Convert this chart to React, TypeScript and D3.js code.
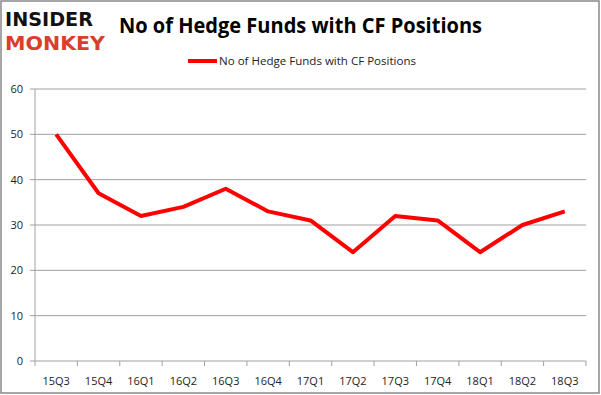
import React from "react";
import * as d3 from "d3";

const categories = ["15Q3","15Q4","16Q1","16Q2","16Q3","16Q4","17Q1","17Q2","17Q3","17Q4","18Q1","18Q2","18Q3"];
const values = [50, 37, 32, 34, 38, 33, 31, 24, 32, 31, 24, 30, 33];
const yTicks = [0, 10, 20, 30, 40, 50, 60];
const seriesName = "No of Hedge Funds with CF Positions";
const title = "No of Hedge Funds with CF Positions";

export default function App() {
  const W = 601, H = 395;
  const left = 35, right = 586, top = 89, bottom = 361;
  const x = d3.scaleBand<string>().domain(categories).range([left, right]);
  const y = d3.scaleLinear().domain([0, 60]).range([bottom, top]);
  const line = d3.line<number>()
    .x((_, i) => (x(categories[i]) as number) + x.bandwidth() / 2)
    .y((d) => y(d));
  const font = "'Open Sans', 'DejaVu Sans', sans-serif";
  return (
    <svg width={W} height={H} style={{ position: "absolute", left: 0, top: 0 }}>
      <rect x={0} y={0} width={W} height={H} fill="#fff" />
      <rect x={1} y={1} width={W - 3} height={H - 3} fill="none" stroke="#888" strokeWidth={1.5} />
      <g fontFamily="'DejaVu Sans', sans-serif" fontWeight="900">
        <text x={5} y={26} fontSize={19} fill="#111" textLength={88} lengthAdjust="spacingAndGlyphs">INSIDER</text>
        <text x={5} y={50} fontSize={19} fill="#d9402b" textLength={100} lengthAdjust="spacingAndGlyphs">MONKEY</text>
      </g>
      <text x={119} y={33} fontFamily={font} fontWeight="bold" fontSize={21} fill="#000" textLength={363} lengthAdjust="spacingAndGlyphs">{title}</text>
      <line x1={188} x2={217} y1={61} y2={61} stroke="#ff0000" strokeWidth={4} />
      <text x={219} y={65} fontFamily={font} fontSize={11} fill="#222" textLength={197} lengthAdjust="spacingAndGlyphs">{seriesName}</text>
      {yTicks.map((t) => (
        <g key={t}>
          <line x1={left} x2={right} y1={y(t)} y2={y(t)} stroke="#a0a0a0" strokeWidth={1} />
          <line x1={left - 5} x2={left} y1={y(t)} y2={y(t)} stroke="#a0a0a0" />
          <text x={23} y={y(t) + 4} textAnchor="end" fontFamily={font} fontSize={11} fill="#222">{t}</text>
        </g>
      ))}
      <line x1={left} x2={left} y1={top} y2={bottom + 5} stroke="#a0a0a0" />
      {categories.map((c, i) => (
        <g key={c}>
          <line x1={(x(c) as number) + x.bandwidth()} x2={(x(c) as number) + x.bandwidth()} y1={bottom} y2={bottom + 5} stroke="#a0a0a0" />
          <text x={(x(c) as number) + x.bandwidth() / 2} y={385} textAnchor="middle" fontFamily={font} fontSize={11} fill="#222">{c}</text>
        </g>
      ))}
      <path d={line(values) || ""} fill="none" stroke="#ff0000" strokeWidth={4} strokeLinejoin="round" />
    </svg>
  );
}
